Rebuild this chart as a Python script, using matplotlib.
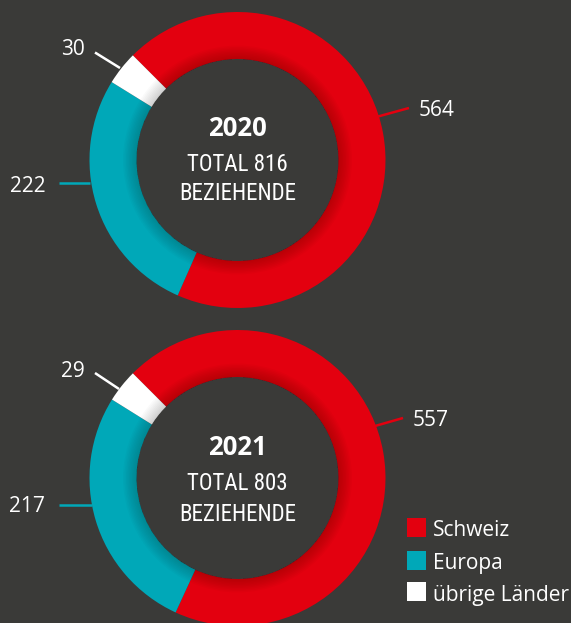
import matplotlib
matplotlib.use('Agg')
import matplotlib.pyplot as plt
from matplotlib.patches import Rectangle, Wedge

W, H = 571, 623
BG = '#3a3a38'

years = ['2020', '2021']
totals = [816, 803]
categories = ['Schweiz', 'Europa', 'übrige Länder']
schweiz = [564, 557]
europa = [222, 217]
uebrige = [30, 29]
colors = ['#e3000f', '#00a8b8', '#ffffff']

# layout in pixels (y measured from top)
centers = [(237.5, 160), (237.5, 478)]
R, RING = 148, 47
# per donut, per category: text anchor x, baseline y, ha, leader line
labels_layout = [
    [(419, 116.5, 'left', (378, 116.5), (409, 108)),
     (46, 191.5, 'right', (59, 183), (90, 183)),
     (85, 55, 'right', (95, 52.5), (120, 68))],
    [(413, 426, 'left', (375, 426), (403, 418)),
     (45, 511.5, 'right', (59, 505), (92, 505)),
     (85, 377, 'right', (95, 373), (119, 389))],
]
center_text_y = [(135.5, 171, 199.5), (455, 490, 521)]

NUM_FONT = ['Open Sans', 'DejaVu Sans']
NARROW = ['Roboto Condensed', 'IBM Plex Sans Condensed', 'DejaVu Sans']


def fy(y):
    return H - y


fig = plt.figure(figsize=(W / 100, H / 100), dpi=100, facecolor=BG)
ax = fig.add_axes([0, 0, 1, 1])
ax.set_facecolor(BG)

for i in range(2):
    cx, cy = centers[i]
    vals = [schweiz[i], europa[i], uebrige[i]]
    ax.pie(vals, colors=colors, startangle=135, counterclock=False,
           center=(cx, fy(cy)), radius=R,
           wedgeprops=dict(width=RING, linewidth=0))
    # soft shading along the inner edge of the ring
    r_in = R - RING
    for k in range(9):
        w = 1.5 * (k + 1)
        ax.add_patch(Wedge((cx, fy(cy)), r_in + w, 0, 360, width=w,
                           facecolor='black', edgecolor='none', alpha=0.02))
    for j, (tx, ty, ha, p0, p1) in enumerate(labels_layout[i]):
        ax.plot([p0[0], p1[0]], [fy(p0[1]), fy(p1[1])], color=colors[j],
                lw=1.8, solid_capstyle='butt')
        ax.text(tx, fy(ty), str(vals[j]), ha=ha, va='baseline',
                color='white', fontsize=15, family=NUM_FONT)
    y0, y1, y2 = center_text_y[i]
    ax.text(cx, fy(y0), years[i], ha='center', va='baseline', color='white',
            fontsize=18.5, fontweight='bold', family=NUM_FONT)
    ax.text(cx, fy(y1), f'TOTAL {totals[i]}', ha='center', va='baseline',
            color='white', fontsize=16.5, fontweight='normal', family=NARROW)
    ax.text(cx, fy(y2), 'BEZIEHENDE', ha='center', va='baseline',
            color='white', fontsize=16.5, fontweight='normal', family=NARROW)

# legend
leg_tops = [518, 550.5, 582]
for k, name in enumerate(categories):
    ax.add_patch(Rectangle((407, fy(leg_tops[k] + 19)), 19, 19,
                           facecolor=colors[k], edgecolor='none'))
    ax.text(433, fy(leg_tops[k] + 18.5), name, ha='left', va='baseline',
            color='white', fontsize=15, family=NUM_FONT)

ax.set_xlim(0, W)
ax.set_ylim(0, H)
ax.set_aspect('auto')
ax.axis('off')

fig.savefig('out.png', dpi=100, facecolor=BG)
